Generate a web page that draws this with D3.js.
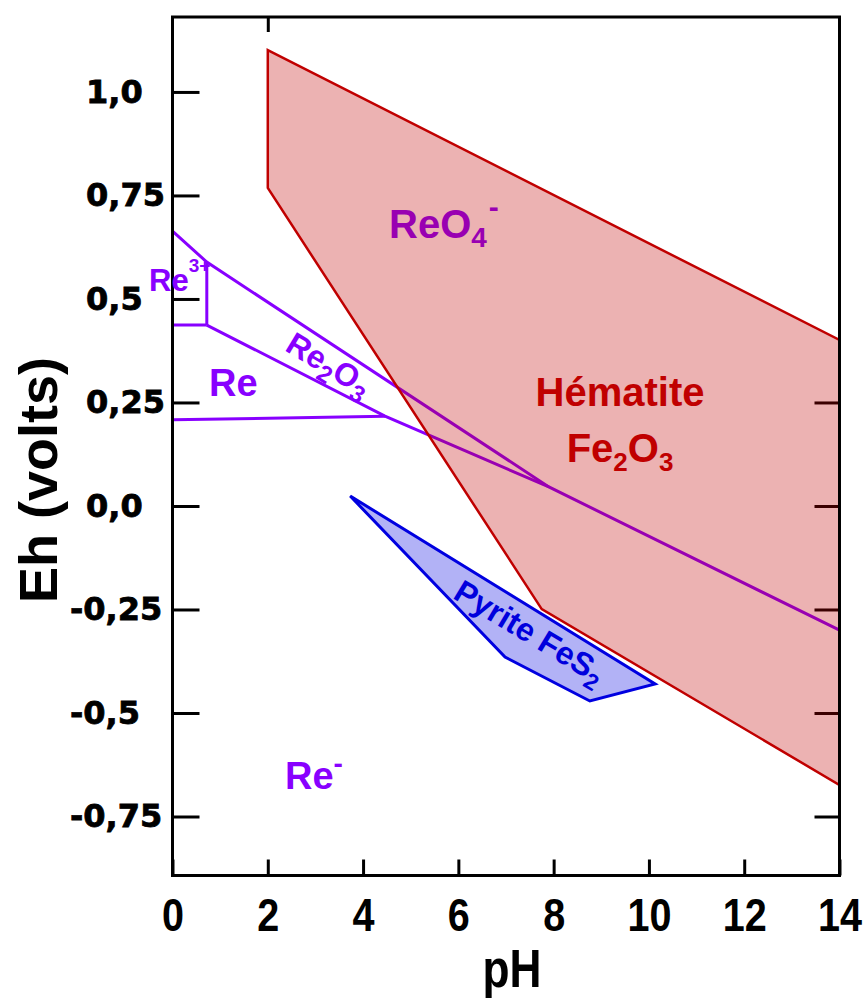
<!DOCTYPE html>
<html>
<head>
<meta charset="utf-8">
<script src="https://cdn.jsdelivr.net/npm/d3@7"></script>
<style>
  html, body { margin: 0; padding: 0; background: #fff; }
  svg { display: block; }
</style>
</head>
<body>
<svg id="chart" width="864" height="1001"></svg>
<script>
// ---------- data ----------
const xTicks = [0, 2, 4, 6, 8, 10, 12, 14];
const xTickLabels = ["0", "2", "4", "6", "8", "10", "12", "14"];
const yTicks = [1.0, 0.75, 0.5, 0.25, 0.0, -0.25, -0.5, -0.75];
const yTickLabels = ["1,0", "0,75", "0,5", "0,25", "0,0", "-0,25", "-0,5", "-0,75"];
const yTicksRight = [0.25, 0.0, -0.25, -0.5, -0.75];
const xTicksTop = [2];

// hematite stability field (pH, Eh)
const hematite = [[2, 1.101], [14, 0.401], [14, -0.674], [7.75, -0.249], [2, 0.768]];
// pyrite stability field
const pyrite = [[3.73, 0.024], [10.13, -0.430], [8.76, -0.471], [6.98, -0.365]];
// rhenium boundaries
const reUpper = [[0, 0.664], [0.72, 0.589], [7.9, 0.046], [14, -0.30]];
const reLower = [[0.72, 0.437], [4.46, 0.217], [7.9, 0.046]];
const reVertical = [[0.72, 0.589], [0.72, 0.437]];
const reStep = [[0, 0.437], [0.72, 0.437]];
const reReMinus = [[0, 0.208], [4.46, 0.217]];

// ---------- layout ----------
const svg = d3.select("#chart");
const L = 172.5, R = 839.5, T = 17, B = 875.5;
const x = d3.scaleLinear().domain([0, 14]).range([L, R]);
const y = d3.scaleLinear().domain([-0.8925, 1.181]).range([B, T]);

const PURPLE = "#8800ff";
const RED = "#c00000";
const BLUE = "#0000e0";
const labelFont = "'Liberation Sans', Arial, sans-serif";

const line = d3.line().x(d => x(d[0])).y(d => y(d[1]));

// ---------- axes / ticks (under fills) ----------
const yAxis = d3.axisLeft(y).tickValues(yTicks)
  .tickFormat((d, i) => yTickLabels[i]).tickSize(-27).tickPadding(10);
const gy = svg.append("g").attr("transform", `translate(${L},0)`).call(yAxis);
gy.select(".domain").remove();
gy.selectAll("line").attr("stroke", "#000").attr("stroke-width", 3);
// labels are left-aligned in the reference (negatives start further left)
gy.selectAll("text").attr("font-family", "'DejaVu Sans', sans-serif")
  .attr("font-weight", "bold").attr("font-size", 32).attr("fill", "#000")
  .attr("stroke", "#000").attr("stroke-width", 0.8)
  .attr("text-anchor", "start")
  .attr("x", d => (d < 0 ? 70 : 86) - L);

const yAxisR = d3.axisRight(y).tickValues(yTicksRight).tickSize(-25).tickFormat("");
const gyr = svg.append("g").attr("transform", `translate(${R},0)`).call(yAxisR);
gyr.select(".domain").remove();
gyr.selectAll("line").attr("stroke", "#000").attr("stroke-width", 3);

const xAxis = d3.axisBottom(x).tickValues(xTicks)
  .tickFormat((d, i) => xTickLabels[i]).tickSize(-16).tickPadding(23);
const gx = svg.append("g").attr("transform", `translate(0,${B})`).call(xAxis);
gx.select(".domain").remove();
gx.selectAll("line").attr("stroke", "#000").attr("stroke-width", 3);
gx.selectAll("text").attr("font-family", labelFont)
  .attr("font-weight", "bold").attr("font-size", 46).attr("fill", "#000")
  .attr("transform", "scale(0.86,1)");

const xAxisT = d3.axisTop(x).tickValues(xTicksTop).tickSize(-15).tickFormat("");
const gxt = svg.append("g").attr("transform", `translate(0,${T})`).call(xAxisT);
gxt.select(".domain").remove();
gxt.selectAll("line").attr("stroke", "#000").attr("stroke-width", 3);

// ---------- rhenium lines (under hematite fill) ----------
[reUpper, reLower, reVertical, reStep, reReMinus].forEach(seg => {
  svg.append("path").datum(seg).attr("d", line)
    .attr("fill", "none").attr("stroke", PURPLE).attr("stroke-width", 3)
    .attr("stroke-linejoin", "miter");
});

// ReO4- (under fill)
const t1 = svg.append("text").attr("x", 389).attr("y", 238)
  .attr("font-family", labelFont).attr("font-weight", "bold").attr("font-size", 40).attr("fill", PURPLE);
t1.append("tspan").text("ReO");
t1.append("tspan").text("4").attr("font-size", 28).attr("dy", 9);
t1.append("tspan").text("-").attr("font-size", 30).attr("dx", 2).attr("dy", -30);

// ---------- hematite ----------
svg.append("path").datum(hematite).attr("d", d => line(d) + "Z")
  .attr("fill", RED).attr("fill-opacity", 0.3)
  .attr("stroke", RED).attr("stroke-width", 2.5).attr("stroke-linejoin", "miter");

// ---------- pyrite ----------
svg.append("path").datum(pyrite).attr("d", d => line(d) + "Z")
  .attr("fill", BLUE).attr("fill-opacity", 0.3)
  .attr("stroke", BLUE).attr("stroke-width", 3).attr("stroke-linejoin", "miter");

// ---------- frame ----------
svg.append("rect").attr("x", L).attr("y", T).attr("width", R - L).attr("height", B - T)
  .attr("fill", "none").attr("stroke", "#000").attr("stroke-width", 3);

// ---------- labels ----------
svg.append("text").attr("x", 620).attr("y", 406).attr("text-anchor", "middle")
  .attr("font-family", labelFont).attr("font-weight", "bold").attr("font-size", 40)
  .attr("fill", RED).text("Hématite");
const fe = svg.append("text").attr("x", 620).attr("y", 462).attr("text-anchor", "middle")
  .attr("font-family", labelFont).attr("font-weight", "bold").attr("font-size", 40).attr("fill", RED);
fe.append("tspan").text("Fe");
fe.append("tspan").text("2").attr("font-size", 26).attr("dy", 9);
fe.append("tspan").text("O").attr("dy", -9);
fe.append("tspan").text("3").attr("font-size", 26).attr("dy", 9);

const re3 = svg.append("text").attr("x", 149).attr("y", 291)
  .attr("font-family", labelFont).attr("font-weight", "bold").attr("font-size", 31).attr("fill", PURPLE);
re3.append("tspan").text("Re");
re3.append("tspan").text("3+").attr("font-size", 19).attr("dy", -19);

svg.append("text").attr("x", 209).attr("y", 396)
  .attr("font-family", labelFont).attr("font-weight", "bold").attr("font-size", 38)
  .attr("fill", PURPLE).text("Re");

const reM = svg.append("text").attr("x", 285).attr("y", 789)
  .attr("font-family", labelFont).attr("font-weight", "bold").attr("font-size", 38).attr("fill", PURPLE);
reM.append("tspan").text("Re");
reM.append("tspan").text("-").attr("font-size", 28).attr("dy", -16);

const re2o3 = svg.append("text").attr("transform", "translate(328,366) rotate(31)")
  .attr("text-anchor", "middle").attr("y", 9)
  .attr("font-family", labelFont).attr("font-weight", "bold").attr("font-size", 32).attr("fill", PURPLE);
re2o3.append("tspan").text("Re");
re2o3.append("tspan").text("2").attr("font-size", 24).attr("dy", 8);
re2o3.append("tspan").text("O").attr("dy", -8);
re2o3.append("tspan").text("3").attr("font-size", 24).attr("dy", 8);

const pyr = svg.append("text").attr("transform", "translate(530,632) rotate(31)")
  .attr("text-anchor", "middle").attr("y", 11)
  .attr("font-family", labelFont).attr("font-weight", "bold").attr("font-size", 32).attr("fill", "#0000dd");
pyr.append("tspan").text("Pyrite FeS");
pyr.append("tspan").text("2").attr("font-size", 23).attr("dy", 8);

// axis titles
svg.append("text").attr("transform", "translate(512,987) scale(0.82,1)").attr("text-anchor", "middle")
  .attr("font-family", labelFont)
  .attr("font-weight", "bold").attr("font-size", 54).attr("fill", "#000").text("pH");

svg.append("text").attr("transform", "translate(57,480) rotate(-90)").attr("text-anchor", "middle")
  .attr("font-family", labelFont).attr("font-weight", "bold").attr("font-size", 54)
  .attr("fill", "#000").text("Eh (volts)");
</script>
</body>
</html>
